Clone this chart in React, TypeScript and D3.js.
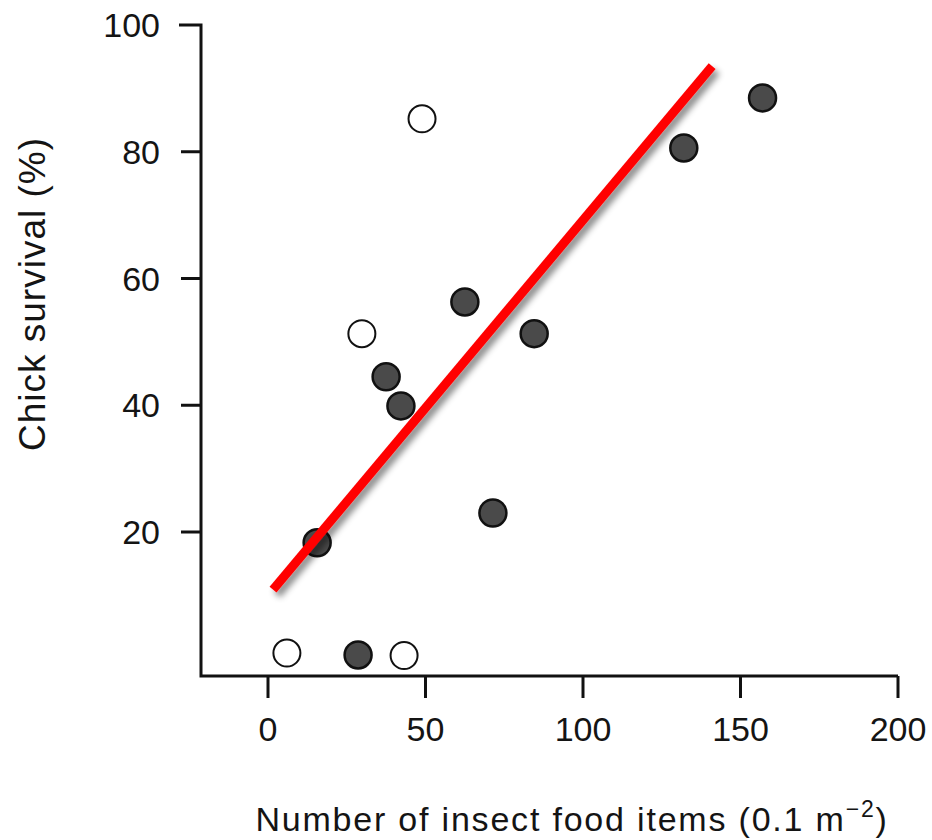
import React from 'react';
import * as d3 from 'd3';

const filledX = [157, 132, 62.5, 84.5, 37.5, 42.2, 71.4, 15.6, 28.6];
const filledY = [88.5, 80.6, 56.3, 51.3, 44.5, 39.9, 23.0, 18.3, 0.6];
const openX = [48.9, 29.8, 6.0, 43.2];
const openY = [85.2, 51.3, 0.9, 0.5];
const fitX = [1.6, 141];
const fitY = [10.9, 93.5];
const xTicks = [0, 50, 100, 150, 200];
const yTicks = [20, 40, 60, 80, 100];

const width = 932;
const height = 840;

export default function App() {
  const x = d3.scaleLinear().domain([0, 200]).range([268, 898]);
  const y = d3.scaleLinear().domain([20, 100]).range([532, 25]);
  const xAxisY = 676;
  const yAxisX = 201;
  const font = '"Liberation Sans", Arial, sans-serif';
  const ink = '#141414';

  const fitLine = d3
    .line<number>()
    .x((d) => x(d))
    .y((_, i) => y(fitY[i]))(fitX);

  return (
    <svg width={width} height={height} style={{ position: 'absolute', left: 0, top: 0 }}>
      <defs>
        <filter id="shadow" x="-20%" y="-20%" width="140%" height="140%">
          <feDropShadow dx="4" dy="5" stdDeviation="3" floodColor="#000" floodOpacity="0.45" />
        </filter>
      </defs>
      <rect width={width} height={height} fill="#fff" />

      {/* axes */}
      <path
        d={`M${yAxisX - 22},${y(100)}H${yAxisX}V${xAxisY}H${x(200)}`}
        fill="none"
        stroke="#111"
        strokeWidth={3}
      />
      {yTicks.slice(0, -1).map((t) => (
        <line key={t} x1={yAxisX - 20} x2={yAxisX} y1={y(t)} y2={y(t)} stroke="#111" strokeWidth={3} />
      ))}
      {xTicks.map((t) => (
        <line key={t} x1={x(t)} x2={x(t)} y1={xAxisY} y2={xAxisY + 22} stroke="#111" strokeWidth={3} />
      ))}
      {yTicks.map((t) => (
        <text
          key={t}
          x={160}
          y={y(t)}
          dy="0.36em"
          textAnchor="end"
          fontFamily={font}
          fontSize={34}
          fill={ink}
        >
          {t}
        </text>
      ))}
      {xTicks.map((t) => (
        <text
          key={t}
          x={x(t)}
          y={741}
          textAnchor="middle"
          fontFamily={font}
          fontSize={34}
          fill={ink}
        >
          {t}
        </text>
      ))}

      <text
        transform="translate(45,294) rotate(-90)"
        textAnchor="middle"
        fontFamily={font}
        fontSize={37}
        letterSpacing={1}
        fill={ink}
      >
        Chick survival (%)
      </text>
      <text
        x={572}
        y={831}
        textAnchor="middle"
        fontFamily={font}
        fontSize={34}
        letterSpacing={1.8}
        fill={ink}
      >
        Number of insect food items (0.1 m
        <tspan dy={-14} fontSize={23}>−2</tspan>
        <tspan dy={14}>)</tspan>
      </text>

      {/* points */}
      {openX.map((v, i) => (
        <circle key={'o' + i} cx={x(v)} cy={y(openY[i])} r={13.5} fill="#fff" stroke="#111" strokeWidth={2} />
      ))}
      {filledX.map((v, i) => (
        <circle key={'f' + i} cx={x(v)} cy={y(filledY[i])} r={13.5} fill="#4a4a4a" stroke="#111" strokeWidth={2.5} />
      ))}

      {/* fitted line */}
      <path d={fitLine ?? ''} fill="none" stroke="#ff0000" strokeWidth={9} filter="url(#shadow)" />
    </svg>
  );
}
